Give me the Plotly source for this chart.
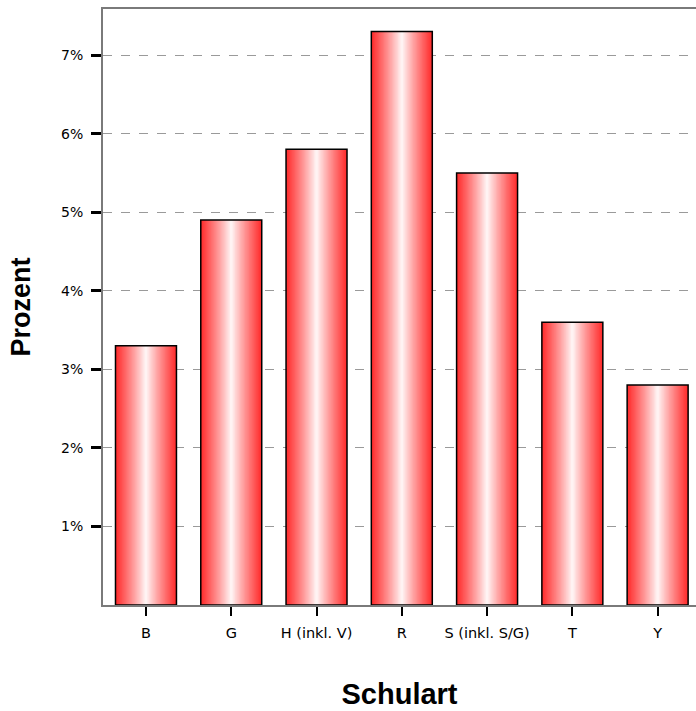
import plotly.graph_objects as go

categories = ["B", "G", "H (inkl. V)", "R", "S (inkl. S/G)", "T", "Y"]
values = [3.3, 4.9, 5.8, 7.3, 5.5, 3.6, 2.8]
y_ticks = [1, 2, 3, 4, 5, 6, 7]
y_ticklabels = [f"{v}%" for v in y_ticks]

BAR_W = 0.715
N = 24
red = (255, 45, 45)

fig = go.Figure()
xs = list(range(len(categories)))
for k in range(N):
    t = 1 - k / N
    f = t ** 0.9
    col = tuple(round(255 - (255 - c) * f) for c in red)
    fig.add_trace(go.Bar(
        x=xs, y=values, width=BAR_W * t,
        marker=dict(color=f"rgb{col}", line=dict(width=0)),
        hoverinfo="skip", showlegend=False,
    ))
fig.add_trace(go.Bar(
    x=xs, y=values, width=BAR_W,
    marker=dict(color="rgba(0,0,0,0)", line=dict(color="black", width=1.5)),
    hoverinfo="skip", showlegend=False,
))

fig.update_layout(
    width=696, height=711,
    margin=dict(l=103, r=0, t=9, b=106),
    barmode="overlay",
    plot_bgcolor="white", paper_bgcolor="white",
    font=dict(family="Liberation Sans, Arial, sans-serif", color="black"),
    xaxis=dict(
        range=[-0.504, 6.45],
        tickmode="array", tickvals=xs, ticktext=categories,
        ticks="outside", ticklen=9, tickwidth=2, tickcolor="black",
        ticklabelstandoff=5,
        showline=True, linecolor="#7a7a7a", linewidth=2, mirror=True,
        showgrid=False, zeroline=False,
        tickfont=dict(size=14.5, family="DejaVu Sans"),
        title=dict(text="<b>Schulart</b>", font=dict(size=29), standoff=43),
        automargin=False,
    ),
    yaxis=dict(
        range=[0, 7.586],
        tickmode="array", tickvals=y_ticks, ticktext=y_ticklabels,
        ticks="outside", ticklen=10, tickwidth=3, tickcolor="black",
        ticklabelstandoff=5,
        showline=True, linecolor="#7a7a7a", linewidth=2,
        showgrid=True, gridcolor="#9a9a9a", griddash="dash", gridwidth=1,
        zeroline=False,
        tickfont=dict(size=14, family="DejaVu Sans"),
        title=dict(text="<b>Prozent</b>", font=dict(size=27), standoff=23),
        automargin=False,
    ),
)

fig.write_html("out.html")
